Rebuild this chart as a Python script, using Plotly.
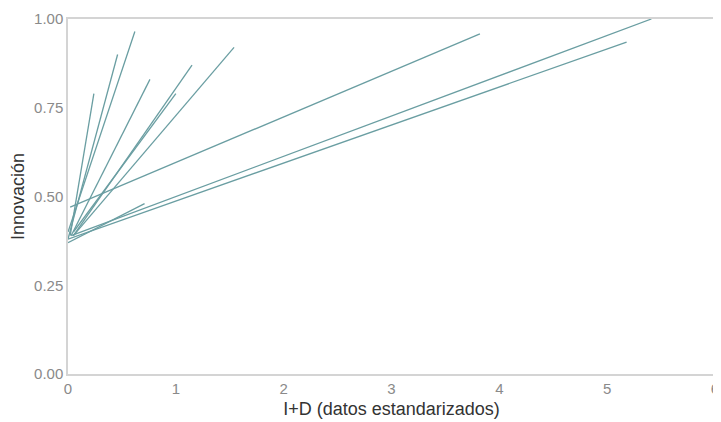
import plotly.graph_objects as go

# Segment start/end points (x = I+D standardized, y = Innovación)
x_start = [0.02, 0.00, 0.00, 0.03, 0.05, 0.05, 0.05, 0.02, 0.03, 0.00, 0.00]
y_start = [0.39, 0.38, 0.40, 0.39, 0.39, 0.40, 0.39, 0.47, 0.39, 0.38, 0.37]
x_end = [0.24, 0.46, 0.62, 0.76, 1.15, 1.00, 1.54, 3.82, 5.41, 5.18, 0.71]
y_end = [0.79, 0.90, 0.965, 0.83, 0.87, 0.79, 0.92, 0.958, 1.00, 0.935, 0.48]

x_ticks = [0, 1, 2, 3, 4, 5, 6]
y_ticks = [0.00, 0.25, 0.50, 0.75, 1.00]

line_color = "#6a9ea2"

fig = go.Figure()
for xs, ys, xe, ye in zip(x_start, y_start, x_end, y_end):
    fig.add_trace(go.Scatter(x=[xs, xe], y=[ys, ye], mode="lines",
                             line=dict(color=line_color, width=1.3),
                             showlegend=False, hoverinfo="skip"))

fig.update_layout(
    width=713, height=414,
    margin=dict(l=60, r=6, t=11, b=48),
    paper_bgcolor="white", plot_bgcolor="white",
    font=dict(family="Liberation Sans, Arial, sans-serif", color="#333"),
)
fig.update_xaxes(range=[0, 6], tickvals=x_ticks, ticktext=[str(v) for v in x_ticks],
                 showgrid=False, zeroline=False, showline=True, mirror=True,
                 linecolor="#d4d4d4", linewidth=1.5, automargin=False,
                 ticklabeloverflow="allow",
                 tickfont=dict(size=15, color="#8a8a8a"),
                 title=dict(text="I+D (datos estandarizados)", font=dict(size=18, color="#333"), standoff=7))
fig.update_yaxes(range=[0, 1], tickvals=y_ticks, ticktext=[f"{v:.2f}" for v in y_ticks],
                 showgrid=False, zeroline=False, showline=True, mirror=True,
                 linecolor="#d4d4d4", linewidth=1.5, automargin=False,
                 tickfont=dict(size=15, color="#8a8a8a"), ticks="", ticklen=0,
                 title=dict(text="Innovación", font=dict(size=18, color="#333"), standoff=10))

fig.write_html("out.html")
